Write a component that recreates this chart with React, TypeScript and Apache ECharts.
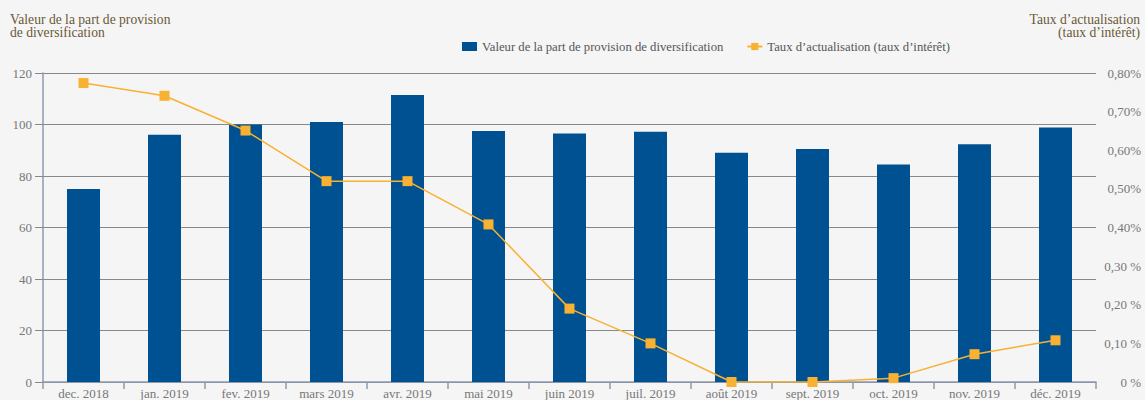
import React, { useEffect, useRef } from "react";
import * as echarts from "echarts";

const categories = [
  "dec. 2018", "jan. 2019", "fev. 2019", "mars 2019", "avr. 2019", "mai 2019", "juin 2019",
  "juil. 2019", "août 2019", "sept. 2019", "oct. 2019", "nov. 2019", "déc. 2019",
];
const provisionValues = [75, 96, 100, 101, 111.5, 97.5, 96.5, 97.2, 89, 90.5, 84.5, 92.3, 98.8];
const rateValues = [0.774, 0.741, 0.651, 0.52, 0.52, 0.408, 0.19, 0.1, 0, 0, 0.01, 0.072, 0.108];
const rightTickLabels: Record<string, string> = {
  "0": "0 %", "0.1": "0,10 %", "0.2": "0,20 %", "0.3": "0,30 %", "0.4": "0,40%",
  "0.5": "0,50%", "0.6": "0,60%", "0.7": "0,70%", "0.8": "0,80%",
};

const barName = "Valeur de la part de provision de diversification";
const lineName = "Taux d’actualisation (taux d’intérêt)";
const FONT = "Liberation Serif";

export default function App() {
  const ref = useRef<HTMLDivElement>(null);
  useEffect(() => {
    if (!ref.current) return;
    const chart = echarts.init(ref.current, null, { renderer: "svg" });
    chart.setOption({
      animation: false,
      backgroundColor: "#f5f5f5",
      textStyle: { fontFamily: FONT },
      grid: { left: 43, right: 49, top: 73, bottom: 15, containLabel: false },
      legend: {
        left: 457,
        top: 35,
        itemWidth: 15,
        itemHeight: 9,
        itemGap: 23,
        textStyle: { fontFamily: FONT, fontSize: 12.7, color: "#555" },
        data: [
          { name: barName, icon: "rect" },
          { name: lineName },
        ],
      },
      graphic: [
        {
          type: "text", x: 10, y: 13,
          style: { text: "Valeur de la part de provision\nde diversification", fill: "#6b5837", font: `13.6px "${FONT}"`, lineHeight: 13 },
        },
        {
          type: "text", x: 1140, y: 13,
          style: { text: "Taux d’actualisation\n(taux d’intérêt)", fill: "#6b5837", font: `13.6px "${FONT}"`, lineHeight: 13, align: "right" },
        },
      ],
      xAxis: {
        type: "category",
        data: categories,
        boundaryGap: true,
        axisLine: { lineStyle: { color: "#8e9ab0", width: 1.5 } },
        axisTick: { show: true, length: 7, lineStyle: { color: "#8e9ab0", width: 1.5 } },
        axisLabel: { color: "#777", fontSize: 13, fontFamily: FONT, margin: 5, interval: 0 },
      },
      yAxis: [
        {
          type: "value", min: 0, max: 120, interval: 20,
          axisLine: { show: true, lineStyle: { color: "#8e9ab0", width: 1.5 } },
          axisTick: { show: true, length: 8, lineStyle: { color: "#888" } },
          splitLine: { show: true, lineStyle: { color: "#888", width: 1 } },
          axisLabel: { color: "#777", fontSize: 13, fontFamily: FONT, margin: 11 },
        },
        {
          type: "value", min: 0, max: 0.8, interval: 0.1,
          axisLine: { show: false },
          axisTick: { show: false },
          splitLine: { show: false },
          axisLabel: {
            color: "#777", fontSize: 13, fontFamily: FONT, margin: 45, align: "right",
            formatter: (v: number) => rightTickLabels[String(Math.round(v * 10) / 10)] ?? "",
          },
        },
      ],
      series: [
        {
          name: barName, type: "bar", data: provisionValues, yAxisIndex: 0,
          barWidth: 33, itemStyle: { color: "#005192" },
        },
        {
          name: lineName, type: "line", data: rateValues, yAxisIndex: 1,
          symbol: "rect", symbolSize: 10,
          lineStyle: { color: "#f8b132", width: 1.5 },
          itemStyle: { color: "#f8b132" },
        },
      ],
    });
    return () => chart.dispose();
  }, []);
  return <div ref={ref} style={{ position: "fixed", left: 0, top: 0, width: 1145, height: 400 }} />;
}
